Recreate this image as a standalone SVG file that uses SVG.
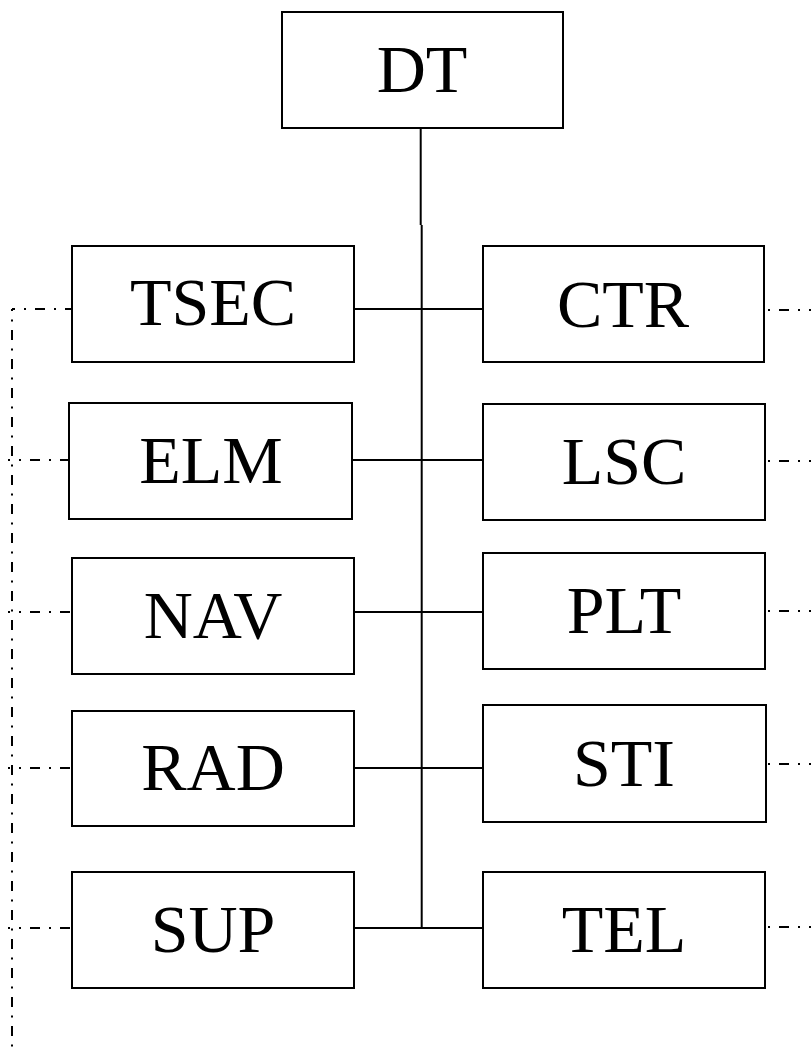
<svg xmlns="http://www.w3.org/2000/svg" width="811" height="1048" viewBox="0 0 811 1048">
<style>
.box{fill:#fff;stroke:#000;stroke-width:2}
.lbl{font-family:"Liberation Serif","Times New Roman",serif;font-size:68px;fill:#000;text-anchor:middle}
.ln{stroke:#000;stroke-width:2;fill:none}
.dd{stroke:#000;stroke-width:2;fill:none;stroke-dasharray:10 9 2 9}
.dv{stroke:#000;stroke-width:2;fill:none;stroke-dasharray:10 8.5 2 8.5}
</style>
<rect width="811" height="1048" fill="#fff"/>
<g id="connectors">
<line class="ln" x1="420.7" y1="128" x2="420.7" y2="225"/>
<line class="ln" x1="421.7" y1="225" x2="421.7" y2="929"/>
<line class="ln" x1="354" y1="309" x2="483" y2="309"/>
<line class="ln" x1="352" y1="460" x2="483" y2="460"/>
<line class="ln" x1="354" y1="612" x2="483" y2="612"/>
<line class="ln" x1="354" y1="768" x2="483" y2="768"/>
<line class="ln" x1="354" y1="928" x2="483" y2="928"/>
<line class="dv" x1="12" y1="309" x2="12" y2="1048" stroke-dashoffset="8"/>
<line class="dd" x1="12" y1="309" x2="72" y2="309" stroke-dashoffset="7"/>
<line class="dd" x1="8" y1="460" x2="69" y2="460" stroke-dashoffset="8"/>
<line class="dd" x1="8" y1="612" x2="72" y2="612" stroke-dashoffset="8"/>
<line class="dd" x1="8" y1="768" x2="72" y2="768" stroke-dashoffset="8"/>
<line class="dd" x1="8" y1="928" x2="72" y2="928" stroke-dashoffset="8"/>
<line class="dd" x1="768" y1="310" x2="811" y2="310" stroke-dashoffset="19"/>
<line class="dd" x1="768" y1="461" x2="811" y2="461" stroke-dashoffset="19"/>
<line class="dd" x1="768" y1="611" x2="811" y2="611" stroke-dashoffset="19"/>
<line class="dd" x1="768" y1="764" x2="811" y2="764" stroke-dashoffset="19"/>
<line class="dd" x1="768" y1="927" x2="811" y2="927" stroke-dashoffset="19"/>
</g>
<g id="DT"><rect class="box" x="282" y="12" width="281" height="116"/><text class="lbl" x="422" y="92">DT</text></g>
<g id="TSEC"><rect class="box" x="72" y="246" width="282" height="116"/><text class="lbl" x="213" y="325">TSEC</text></g>
<g id="CTR"><rect class="box" x="483" y="246" width="281" height="116"/><text class="lbl" x="623" y="327">CTR</text></g>
<g id="ELM"><rect class="box" x="69" y="403" width="283" height="116"/><text class="lbl" x="211" y="483">ELM</text></g>
<g id="LSC"><rect class="box" x="483" y="404" width="282" height="116"/><text class="lbl" x="624" y="484">LSC</text></g>
<g id="NAV"><rect class="box" x="72" y="558" width="282" height="116"/><text class="lbl" x="213" y="638">NAV</text></g>
<g id="PLT"><rect class="box" x="483" y="553" width="282" height="116"/><text class="lbl" x="624" y="633">PLT</text></g>
<g id="RAD"><rect class="box" x="72" y="711" width="282" height="115"/><text class="lbl" x="213" y="790">RAD</text></g>
<g id="STI"><rect class="box" x="483" y="705" width="283" height="117"/><text class="lbl" x="624" y="786">STI</text></g>
<g id="SUP"><rect class="box" x="72" y="872" width="282" height="116"/><text class="lbl" x="213" y="952">SUP</text></g>
<g id="TEL"><rect class="box" x="483" y="872" width="282" height="116"/><text class="lbl" x="624" y="952">TEL</text></g>
</svg>
